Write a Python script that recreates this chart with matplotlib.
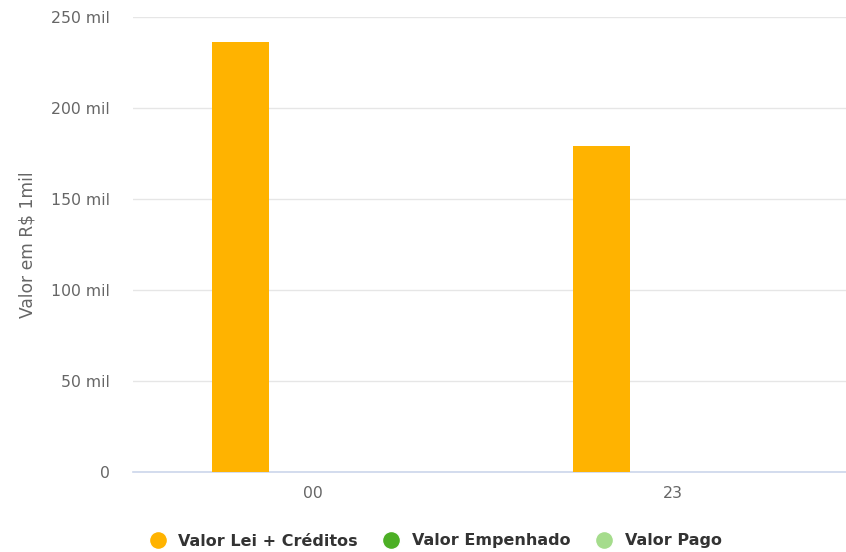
import matplotlib.pyplot as plt
import numpy as np
from matplotlib.lines import Line2D

categorias = ["00", "23"]
series = ["Valor Lei + Créditos", "Valor Empenhado", "Valor Pago"]
valor_lei = [236.3, 179.2]
valor_empenhado = [0, 0]
valor_pago = [0, 0]
cores = ["#ffb300", "#4caf25", "#a5dc8c"]
yticks = [0, 50, 100, 150, 200, 250]

fig = plt.figure(figsize=(8.46, 5.52), dpi=100)
# a area do grafico passa um pouco da borda direita, como no original
ax = fig.add_axes([132.5 / 846, 1 - 472 / 552, 721 / 846, (472 - 17) / 552])

x = np.arange(len(categorias))
largura = 57 / 360.5
passo = 72 / 360.5
for i, (vals, cor) in enumerate(zip([valor_lei, valor_empenhado, valor_pago], cores)):
    ax.bar(x + (i - 1) * passo, vals, width=largura, color=cor, zorder=3)

ax.set_xlim(-0.5, 1.5)
ax.set_ylim(0, 250)
ax.set_yticks(yticks)
ax.set_yticklabels(["0"] + [f"{v} mil" for v in yticks[1:]])
ax.set_xticks(x)
ax.set_xticklabels(categorias)
ax.tick_params(axis="both", length=0, labelcolor="#666666", labelsize=11.3)
ax.tick_params(axis="y", pad=16.5)
ax.tick_params(axis="x", pad=10)
ax.grid(axis="y", color="#e6e6e6", linewidth=1, zorder=0)
for s in ["top", "right", "left"]:
    ax.spines[s].set_visible(False)
ax.spines["bottom"].set_color("#ccd6eb")
ax.spines["bottom"].set_linewidth(1.2)
ax.set_ylabel("Valor em R$ 1mil", color="#666666", fontsize=12.3, labelpad=10)

handles = [Line2D([0], [0], marker="o", color="w", markerfacecolor=c, markersize=13) for c in cores]
fig.legend(handles, series, loc="center", bbox_to_anchor=(0.5105, 1 - 541 / 552), ncol=3,
           frameon=False, handletextpad=0.3, columnspacing=1.1,
           prop={"weight": "bold", "size": 11.5})
for t in fig.legends[0].get_texts():
    t.set_color("#333333")

plt.savefig("out.png")
